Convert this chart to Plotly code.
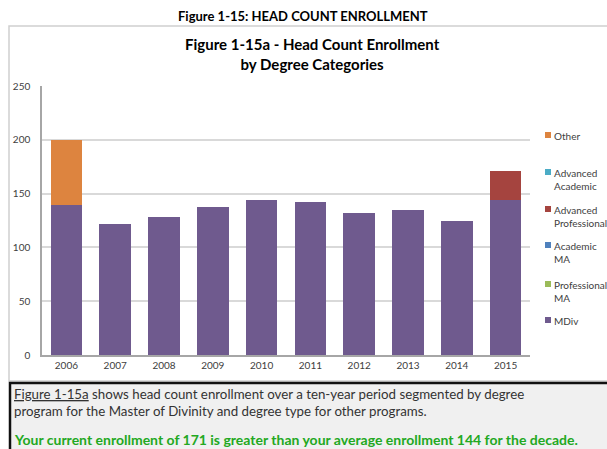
import plotly.graph_objects as go

years = ["2006", "2007", "2008", "2009", "2010", "2011", "2012", "2013", "2014", "2015"]
mdiv = [139, 122, 128, 138, 144, 142, 132, 135, 125, 144]
professional_ma = [0, 0, 0, 0, 0, 0, 0, 0, 0, 0]
academic_ma = [0, 0, 0, 0, 0, 0, 0, 0, 0, 0]
advanced_professional = [0, 0, 0, 0, 0, 0, 0, 0, 0, 27]
advanced_academic = [0, 0, 0, 0, 0, 0, 0, 0, 0, 0]
other = [61, 0, 0, 0, 0, 0, 0, 0, 0, 0]

series_names = ["MDiv", "Professional<br>MA", "Academic<br>MA", "Advanced<br>Professional",
                "Advanced<br>Academic", "Other"]
series_values = [mdiv, professional_ma, academic_ma, advanced_professional, advanced_academic, other]
series_colors = ["#6f5a8e", "#9bbb59", "#4f81bd", "#a5443f", "#4bacc6", "#dd843f"]
y_ticks = [0, 50, 100, 150, 200, 250]

FONT = "Lato"
W, H = 607, 449
ML, MR, MT, MB = 42, 77, 86, 94
PW, PH = W - ML - MR, H - MT - MB


def px_x(px):
    return (px - ML) / PW


def px_y(py):
    return (H - MB - py) / PH


fig = go.Figure()
for name, vals, col in zip(series_names, series_values, series_colors):
    fig.add_trace(go.Bar(x=years, y=vals, name=name.replace("<br>", " "),
                         marker=dict(color=col, line=dict(width=0)),
                         showlegend=False))

shapes = []
annotations = []

# outer chart box
shapes.append(dict(type="rect", xref="paper", yref="paper",
                   x0=px_x(9), x1=px_x(640), y0=px_y(381), y1=px_y(26),
                   line=dict(color="#d0d0d0", width=1.5), fillcolor="rgba(0,0,0,0)", layer="below"))
# bottom text box
shapes.append(dict(type="rect", xref="paper", yref="paper",
                   x0=px_x(10), x1=px_x(640), y0=px_y(470), y1=px_y(383),
                   line=dict(color="#111111", width=2.5), fillcolor="#f0f0f0", layer="below"))

# manual legend (top -> bottom order)
legend_order = list(zip(series_names, series_colors))[::-1]
legend_y = [135, 172, 209, 245, 284, 320]
for (name, col), ly in zip(legend_order, legend_y):
    shapes.append(dict(type="rect", xref="paper", yref="paper",
                       x0=px_x(545), x1=px_x(551), y0=px_y(ly + 3), y1=px_y(ly - 3),
                       line=dict(width=0), fillcolor=col))
    annotations.append(dict(xref="paper", yref="paper", x=px_x(552), y=px_y(ly - 7),
                            xanchor="left", yanchor="top", text=name, showarrow=False,
                            align="left", font=dict(family=FONT, size=10, color="#404040")))

# header
annotations.append(dict(xref="paper", yref="paper", x=px_x(303), y=px_y(16),
                        xanchor="center", yanchor="middle", showarrow=False,
                        text="<b>Figure 1-15: HEAD COUNT ENROLLMENT</b>",
                        font=dict(family=FONT, size=13, color="#000000")))
# chart title
annotations.append(dict(xref="paper", yref="paper", x=px_x(312), y=px_y(54),
                        xanchor="center", yanchor="middle", showarrow=False,
                        text="<b>Figure 1-15a - Head Count Enrollment<br>by Degree Categories</b>",
                        font=dict(family=FONT, size=15, color="#000000")))
# description text
annotations.append(dict(xref="paper", yref="paper", x=px_x(12), y=px_y(402),
                        xanchor="left", yanchor="middle", showarrow=False, align="left",
                        text="<u>Figure 1-15a</u> shows head count enrollment over a ten-year period segmented by degree"
                             "<br>program for the Master of Divinity and degree type for other programs.",
                        font=dict(family=FONT, size=13.3, color="#333333")))
annotations.append(dict(xref="paper", yref="paper", x=px_x(12), y=px_y(439),
                        xanchor="left", yanchor="middle", showarrow=False, align="left",
                        text="<b>Your current enrollment of 171 is greater than your average enrollment 144 for the decade.</b>",
                        font=dict(family=FONT, size=14, color="#22a822")))

fig.update_layout(
    width=W, height=H,
    margin=dict(l=ML, r=MR, t=MT, b=MB),
    barmode="stack", bargap=0.35,
    paper_bgcolor="white", plot_bgcolor="white",
    font=dict(family=FONT, size=10, color="#404040"),
    shapes=shapes, annotations=annotations,
    xaxis=dict(type="category", showgrid=False, showline=True, linecolor="#a6a6a6", linewidth=1.5,
               ticks="", tickfont=dict(family=FONT, size=10, color="#404040"), fixedrange=True),
    yaxis=dict(range=[0, 250], tickvals=y_ticks, showgrid=True, gridcolor="#d9d9d9", gridwidth=1.5,
               showline=True, linecolor="#a6a6a6", linewidth=1.5, zeroline=False,
               ticks="", ticklabelstandoff=8, tickfont=dict(family=FONT, size=10, color="#404040"),
               fixedrange=True),
    showlegend=False,
)

fig.write_html("out.html", config={"displayModeBar": False},
               post_script="document.body.style.margin='0px';document.body.style.overflow='hidden';")
